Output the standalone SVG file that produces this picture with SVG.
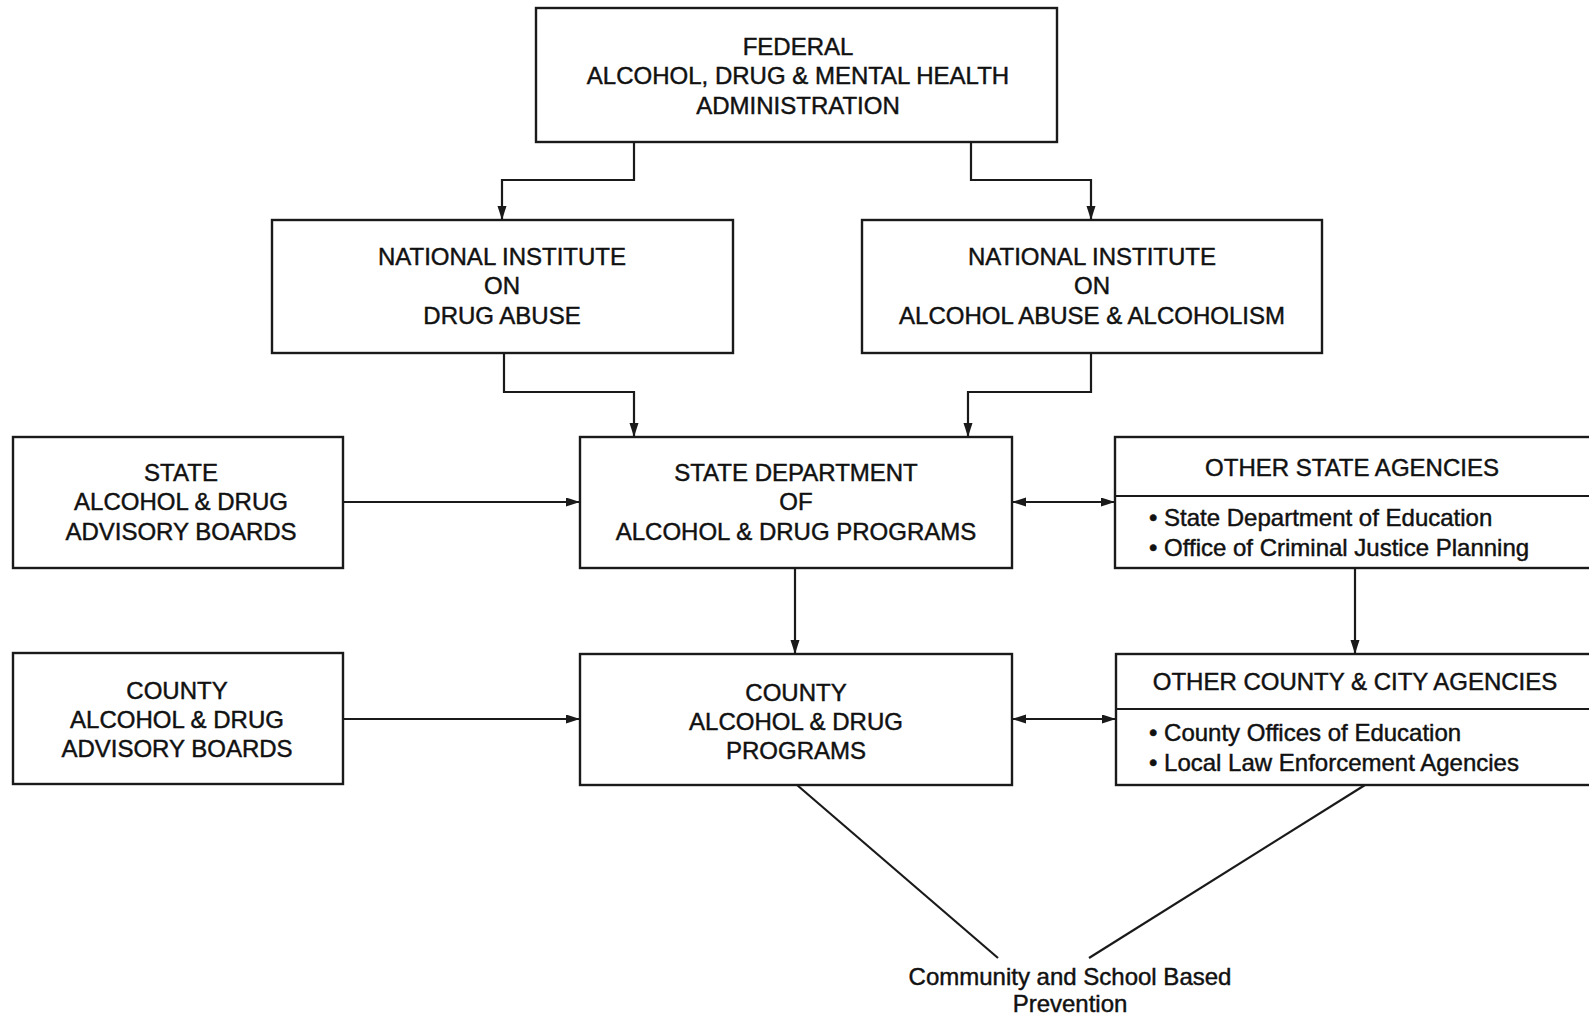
<svg xmlns="http://www.w3.org/2000/svg" width="1589" height="1015" viewBox="0 0 1589 1015">
<style>
.box{fill:#fff;stroke:#1a1a1a;stroke-width:2.4}
.t{font-family:"Liberation Sans",Arial,sans-serif;font-size:24px;fill:#111;stroke:#111;stroke-width:0.45;text-anchor:middle}
.b{font-family:"Liberation Sans",Arial,sans-serif;font-size:24px;fill:#111;stroke:#111;stroke-width:0.45}
.c{fill:none;stroke:#1a1a1a;stroke-width:2.2}
</style>
<defs>
<marker id="ah" markerUnits="userSpaceOnUse" markerWidth="15" markerHeight="10" refX="14" refY="4.5" orient="auto-start-reverse">
<path d="M0,0 L14,4.5 L0,9 z" fill="#1a1a1a"/>
</marker>
</defs>
<rect width="1589" height="1015" fill="#fff"/>
<g id="connectors">
<path class="c" d="M634,142 V180 H502 V220" marker-end="url(#ah)"/>
<path class="c" d="M971,142 V180 H1091 V220" marker-end="url(#ah)"/>
<path class="c" d="M504,353 V392 H634 V437" marker-end="url(#ah)"/>
<path class="c" d="M1091,353 V392 H968 V437" marker-end="url(#ah)"/>
<path class="c" d="M343,502 H580" marker-end="url(#ah)"/>
<path class="c" d="M1012,502 H1115" marker-start="url(#ah)" marker-end="url(#ah)"/>
<path class="c" d="M795,568 V654" marker-end="url(#ah)"/>
<path class="c" d="M1355,568 V654" marker-end="url(#ah)"/>
<path class="c" d="M343,719 H580" marker-end="url(#ah)"/>
<path class="c" d="M1012,719 H1116" marker-start="url(#ah)" marker-end="url(#ah)"/>
<path class="c" d="M797,785 L998,958"/>
<path class="c" d="M1365,785 L1089,958"/>
</g>
<g id="federal">
<rect class="box" x="536" y="8" width="521" height="134"/>
<text class="t" x="798" y="55">FEDERAL</text>
<text class="t" x="798" y="84">ALCOHOL, DRUG &amp; MENTAL HEALTH</text>
<text class="t" x="798" y="114">ADMINISTRATION</text>
</g>
<g id="nida">
<rect class="box" x="272" y="220" width="461" height="133"/>
<text class="t" x="502" y="265">NATIONAL INSTITUTE</text>
<text class="t" x="502" y="294">ON</text>
<text class="t" x="502" y="324">DRUG ABUSE</text>
</g>
<g id="niaaa">
<rect class="box" x="862" y="220" width="460" height="133"/>
<text class="t" x="1092" y="265">NATIONAL INSTITUTE</text>
<text class="t" x="1092" y="294">ON</text>
<text class="t" x="1092" y="324">ALCOHOL ABUSE &amp; ALCOHOLISM</text>
</g>
<g id="state-boards">
<rect class="box" x="13" y="437" width="330" height="131"/>
<text class="t" x="181" y="481">STATE</text>
<text class="t" x="181" y="510">ALCOHOL &amp; DRUG</text>
<text class="t" x="181" y="540">ADVISORY BOARDS</text>
</g>
<g id="state-dept">
<rect class="box" x="580" y="437" width="432" height="131"/>
<text class="t" x="796" y="481">STATE DEPARTMENT</text>
<text class="t" x="796" y="510">OF</text>
<text class="t" x="796" y="540">ALCOHOL &amp; DRUG PROGRAMS</text>
</g>
<g id="other-state">
<rect class="box" x="1115" y="437" width="490" height="131"/>
<line class="c" x1="1115" y1="496" x2="1600" y2="496"/>
<text class="t" x="1352" y="476">OTHER STATE AGENCIES</text>
<text class="b" x="1149" y="526">• State Department of Education</text>
<text class="b" x="1149" y="556">• Office of Criminal Justice Planning</text>
</g>
<g id="county-boards">
<rect class="box" x="13" y="653" width="330" height="131"/>
<text class="t" x="177" y="699">COUNTY</text>
<text class="t" x="177" y="728">ALCOHOL &amp; DRUG</text>
<text class="t" x="177" y="757">ADVISORY BOARDS</text>
</g>
<g id="county-programs">
<rect class="box" x="580" y="654" width="432" height="131"/>
<text class="t" x="796" y="701">COUNTY</text>
<text class="t" x="796" y="730">ALCOHOL &amp; DRUG</text>
<text class="t" x="796" y="759">PROGRAMS</text>
</g>
<g id="other-county">
<rect class="box" x="1116" y="654" width="490" height="131"/>
<line class="c" x1="1116" y1="709" x2="1600" y2="709"/>
<text class="t" x="1355" y="690">OTHER COUNTY &amp; CITY AGENCIES</text>
<text class="b" x="1149" y="741">• County Offices of Education</text>
<text class="b" x="1149" y="771">• Local Law Enforcement Agencies</text>
</g>
<g id="prevention">
<text class="t" x="1070" y="985">Community and School Based</text>
<text class="t" x="1070" y="1012">Prevention</text>
</g>
</svg>
